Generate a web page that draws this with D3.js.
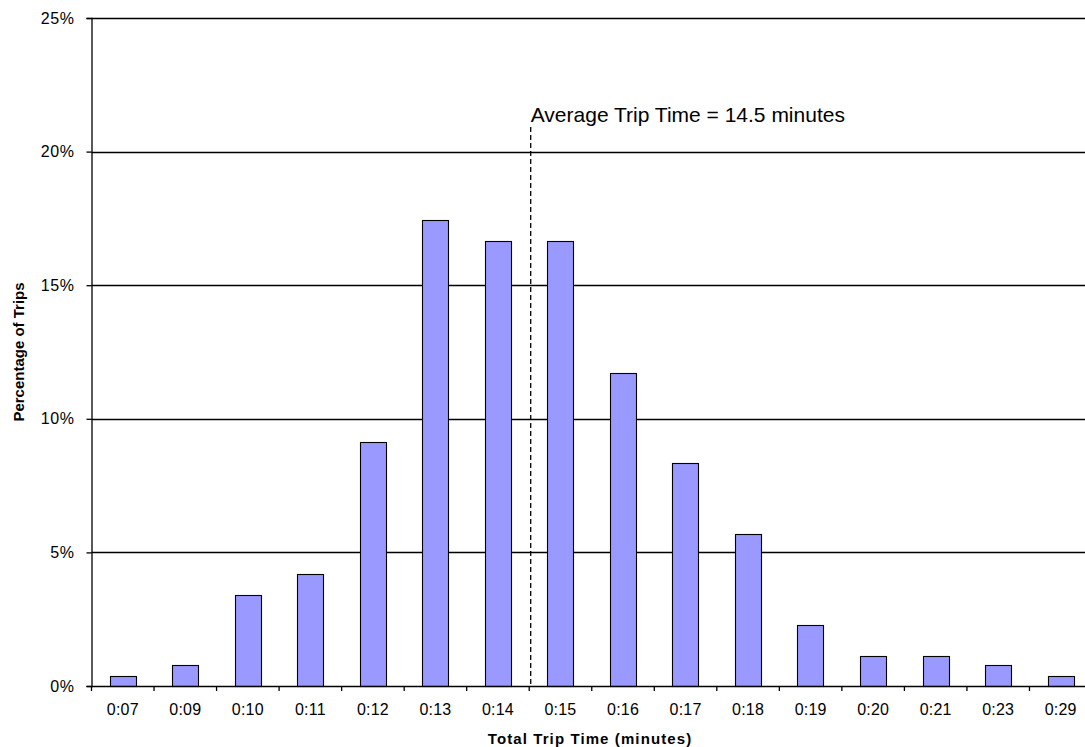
<!DOCTYPE html>
<html>
<head>
<meta charset="utf-8">
<script src="https://cdn.jsdelivr.net/npm/d3@7"></script>
<style>
  html, body { margin: 0; padding: 0; background: #fff; }
  svg { display: block; font-family: "Liberation Sans", Arial, sans-serif; }
</style>
</head>
<body>
<svg id="chart" width="1085" height="747"></svg>
<script>
const categories = ["0:07","0:09","0:10","0:11","0:12","0:13","0:14","0:15","0:16","0:17","0:18","0:19","0:20","0:21","0:23","0:29"];
const percentages = [0.37, 0.79, 3.40, 4.19, 9.13, 17.44, 16.65, 16.65, 11.70, 8.35, 5.69, 2.28, 1.12, 1.12, 0.79, 0.37];
const yTicks = [0, 5, 10, 15, 20, 25];
const averageLabel = "Average Trip Time = 14.5 minutes";
const averageBetween = ["0:14", "0:15"];
const xTitle = "Total Trip Time (minutes)";
const yTitle = "Percentage of Trips";

const svg = d3.select("#chart");
const margin = { left: 91.5, top: 18, bottom: 61 };
const plotRight = 1092;
const H = 747;
const font = "'Liberation Sans', Arial, sans-serif";

const x = d3.scaleBand().domain(categories).range([margin.left, plotRight]).paddingInner(0.58).paddingOuter(0.29);
const y = d3.scaleLinear().domain([0, 25]).range([H - margin.bottom, margin.top]);

// gridlines
svg.append("g").selectAll("line").data(yTicks.filter(d => d > 0)).join("line")
  .attr("x1", margin.left).attr("x2", plotRight)
  .attr("y1", d => Math.round(y(d)) + 0.5).attr("y2", d => Math.round(y(d)) + 0.5)
  .attr("stroke", "#000").attr("stroke-width", 1.3);

// bars
svg.append("g").selectAll("rect").data(categories).join("rect")
  .attr("x", d => Math.round(x(d)) + 0.5)
  .attr("y", (d, i) => Math.round(y(percentages[i])) + 0.5)
  .attr("width", Math.round(x.bandwidth()))
  .attr("height", (d, i) => Math.round(y(0)) - Math.round(y(percentages[i])))
  .attr("fill", "#9999FF").attr("stroke", "#000").attr("stroke-width", 1.1);

// y axis
const yAxis = svg.append("g").attr("transform", `translate(${margin.left},0)`)
  .call(d3.axisLeft(y).tickValues(yTicks).tickFormat(d => d + "%").tickSize(5).tickPadding(12));
yAxis.select(".domain").attr("stroke", "#000").attr("stroke-width", 1.3);
yAxis.selectAll(".tick line").attr("stroke", "#000").attr("stroke-width", 1.3);
yAxis.selectAll(".tick text").attr("font-size", 16).attr("fill", "#000")
  .attr("font-family", font).attr("letter-spacing", 0.6);

// x axis
const xAxis = svg.append("g").attr("transform", `translate(0,${y(0)})`)
  .call(d3.axisBottom(x).tickSize(0).tickPadding(18));
xAxis.select(".domain").attr("stroke", "#000").attr("stroke-width", 1.3);
xAxis.selectAll(".tick text").attr("font-size", 16).attr("fill", "#000")
  .attr("font-family", font).attr("letter-spacing", 0.2);
// boundary ticks between categories
const step = x.step();
const boundaries = d3.range(categories.length + 1).map(i => margin.left + i * step);
xAxis.append("g").selectAll("line").data(boundaries).join("line")
  .attr("x1", d => d).attr("x2", d => d).attr("y1", 0).attr("y2", 5)
  .attr("stroke", "#000").attr("stroke-width", 1.3);

// average line
const avgX = (x(averageBetween[0]) + x(averageBetween[1]) + x.bandwidth()) / 2 + 1.5;
svg.append("line")
  .attr("x1", avgX).attr("x2", avgX)
  .attr("y1", 127).attr("y2", y(0))
  .attr("stroke", "#000").attr("stroke-width", 1.3).attr("stroke-dasharray", "5,3");
svg.append("text")
  .attr("x", avgX).attr("y", 122)
  .attr("font-size", 21).attr("fill", "#000")
  .text(averageLabel);

// axis titles
svg.append("text")
  .attr("x", 590).attr("y", 744)
  .attr("text-anchor", "middle").attr("font-size", 15).attr("font-weight", "bold")
  .attr("letter-spacing", 1.1)
  .text(xTitle);
svg.append("text")
  .attr("transform", `translate(24,352) rotate(-90)`)
  .attr("text-anchor", "middle").attr("font-size", 15).attr("font-weight", "bold")
  .text(yTitle);
</script>
</body>
</html>
